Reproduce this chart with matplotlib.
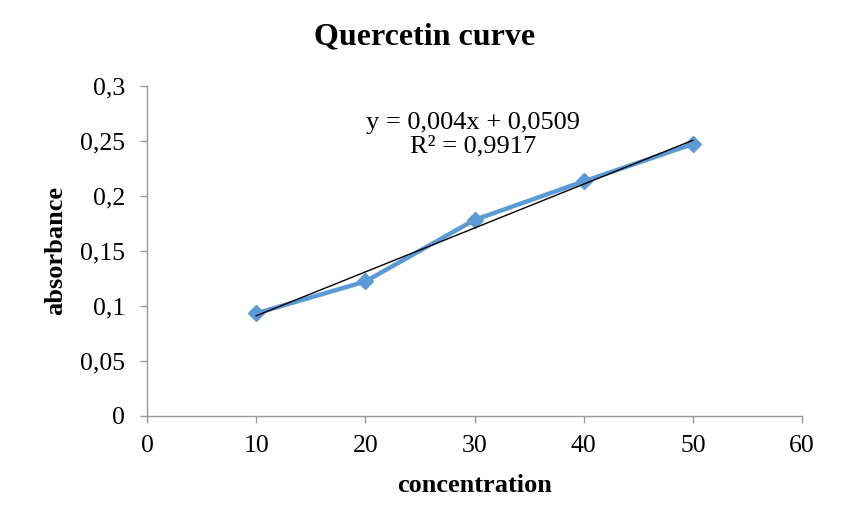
import matplotlib
matplotlib.use("Agg")
import matplotlib.pyplot as plt
import numpy as np

concentration = [10, 20, 30, 40, 50]
absorbance = [0.093, 0.122, 0.178, 0.213, 0.247]
y_ticks = [0, 0.05, 0.1, 0.15, 0.2, 0.25, 0.3]
y_tick_labels = ["0", "0,05", "0,1", "0,15", "0,2", "0,25", "0,3"]
x_ticks = [0, 10, 20, 30, 40, 50, 60]
equation_text = "y = 0,004x + 0,0509\nR² = 0,9917"

plt.rcParams['font.family'] = ['Liberation Serif', 'DejaVu Serif']

fig = plt.figure(figsize=(8.56, 5.31), dpi=100)
ax = fig.add_axes([147 / 856, 1 - 415.7 / 531, 655 / 856, 330 / 531])

ax.plot(concentration, absorbance, color='#5B9BD5', lw=3.2, marker='D',
        markersize=8.5, markerfacecolor='#5B9BD5', markeredgecolor='#5B9BD5',
        zorder=3, solid_joinstyle='round')

coef = np.polyfit(concentration, absorbance, 1)
xs = np.array([min(concentration), max(concentration)])
ax.plot(xs, np.polyval(coef, xs), color='black', lw=1.0, zorder=4)

ax.set_xlim(0, 60)
ax.set_ylim(0, 0.3)
ax.set_xticks(x_ticks)
ax.set_xticklabels([str(v) for v in x_ticks])
ax.set_yticks(y_ticks)
ax.set_yticklabels(y_tick_labels)

for s in ['top', 'right']:
    ax.spines[s].set_visible(False)
for s in ['left', 'bottom']:
    ax.spines[s].set_color('#999999')
    ax.spines[s].set_linewidth(1.0)
ax.tick_params(axis='both', direction='out', length=5, width=1.0,
               color='#999999', labelsize=18.5, labelcolor='black')
ax.tick_params(axis='x', pad=9)
ax.tick_params(axis='y', pad=11)

ax.text(29.9, 0.2555, equation_text, ha='center', va='center', fontsize=19,
        linespacing=1.12)

fig.text(425 / 856, 1 - 37 / 531, "Quercetin curve", ha='center', va='center',
         fontsize=23, fontweight='bold')
ax.set_xlabel("concentration", fontsize=19, fontweight='bold')
ax.xaxis.label.set_va('center')
ax.xaxis.set_label_coords(0.5, -(485 - 415.7) / 330)
ax.set_ylabel("absorbance", fontsize=19, fontweight='bold')
ax.yaxis.label.set_va('center')
ax.yaxis.set_label_coords((56 - 147) / 655, 0.5)

fig.savefig("out.png", dpi=100)
